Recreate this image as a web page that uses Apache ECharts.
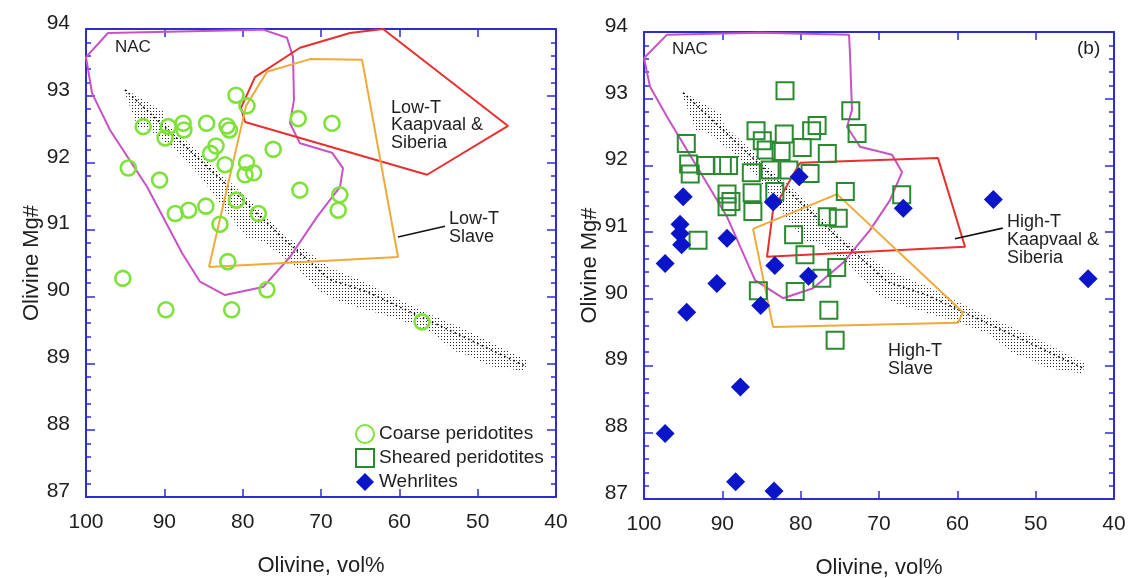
<!DOCTYPE html>
<html><head><meta charset="utf-8">
<script src="https://cdn.jsdelivr.net/npm/echarts@6/dist/echarts.min.js"></script>
<style>html,body{margin:0;padding:0;background:#fff}#c{width:1129px;height:578px}</style>
</head><body><div id="c"></div>
<script>
// ---------- data (x = Olivine vol%, y = Olivine Mg#) ----------
const xTickValues = [100, 90, 80, 70, 60, 50, 40];
const yTickValues = [87, 88, 89, 90, 91, 92, 93, 94];

const coarse = [[92.7,92.54],[89.9,92.37],[89.5,92.54],[87.6,92.59],[87.5,92.49],[84.6,92.59],[82.0,92.55],[81.7,92.49],[83.4,92.25],[84.1,92.14],[82.25,91.97],[79.5,92.0],[79.7,91.82],[78.6,91.85],[76.1,92.2],[72.9,92.66],[68.6,92.59],[94.6,91.92],[90.6,91.74],[88.6,91.24],[86.9,91.29],[84.7,91.35],[82.9,91.08],[80.8,91.44],[78.0,91.24],[72.7,91.59],[67.6,91.52],[67.8,91.29],[80.85,93.01],[79.45,92.85],[95.3,90.27],[89.8,89.8],[81.4,89.8],[81.9,90.52],[76.9,90.1],[57.1,89.62]];

const sheared = [[82.0,93.12],[73.6,92.82],[72.8,92.48],[85.7,92.52],[84.9,92.37],[82.1,92.47],[78.6,92.52],[77.9,92.6],[79.8,92.27],[82.5,92.21],[84.4,92.23],[76.6,92.18],[94.6,92.33],[94.3,92.02],[94.1,91.87],[92.1,92.0],[90.0,92.0],[89.2,92.0],[86.3,91.89],[83.9,91.93],[81.5,91.93],[78.8,91.88],[83.3,91.61],[89.4,91.57],[88.9,91.46],[89.4,91.38],[86.2,91.59],[86.1,91.31],[74.3,91.61],[76.6,91.23],[75.2,91.21],[93.1,90.88],[80.9,90.96],[79.45,90.66],[75.4,90.47],[77.3,90.31],[85.4,90.12],[80.7,90.11],[76.4,89.83],[75.6,89.38],[67.1,91.56]];

const wehrlites = [[95.0,91.53],[95.4,91.12],[95.4,90.98],[95.2,90.81],[89.4,90.91],[97.3,90.53],[90.7,90.23],[83.3,90.5],[79.0,90.34],[80.2,91.83],[83.5,91.45],[85.1,89.9],[94.55,89.8],[87.7,88.68],[97.3,87.98],[88.3,87.26],[83.4,87.12],[66.9,91.36],[55.4,91.49],[43.3,90.3]];

// field outlines
const nacLeft = [[100,93.58],[97.19,93.94],[77.40,93.99],[74.34,93.87],[73.57,93.58],[73.45,92.94],[73.96,92.59],[72.68,92.29],[68.59,92.15],[67.19,91.92],[67.57,91.64],[70.51,91.19],[73.96,90.59],[77.40,90.14],[82.25,90.02],[85.45,90.22],[87.74,90.65],[92.21,91.64],[96.94,92.49],[99.23,93.04]];
const lowTKaapvaal = [[79.70,92.61],[80.21,92.82],[78.43,93.28],[72.68,93.72],[66.30,93.94],[62.08,94.0],[46.12,92.55],[56.46,91.82]];
const lowTSlave = [[84.30,90.44],[79.57,92.85],[76.89,93.36],[71.40,93.55],[64.76,93.54],[60.17,90.59]];
const lowTSlaveLeader = [[60.17,90.89],[54.17,91.05]];

const nacRight = [[100,93.61],[97.06,93.96],[85.19,93.99],[73.83,93.96],[73.71,93.69],[73.45,92.83],[74.08,92.58],[72.42,92.28],[68.34,92.16],[67.06,91.90],[68.59,91.48],[71.15,91.03],[74.59,90.54],[78.42,90.16],[82.25,90.01],[85.83,90.28],[89.40,91.23],[93.23,91.98],[97.06,92.73],[99.23,93.18]];
const highTKaapvaal = [[80.08,92.04],[62.47,92.11],[59.02,90.78],[84.30,90.63],[83.53,91.33]];
const highTSlave = [[86.08,91.05],[75.36,91.57],[59.28,89.80],[59.91,89.64],[83.53,89.58]];
const highTKaapvaalLeader = [[60.3,90.90],[54.2,91.06]];

// stippled trend band: outline (upper edge, then lower edge back) and its dark centre line
const bandUpper = [[95.28,93.12],[90.17,92.77],[89.79,92.61],[85.45,92.13],[79.06,91.43],[74.85,90.93],[68.85,90.43],[64.13,90.20],[56.98,89.78],[50.98,89.47],[43.57,89.03]];
const bandLower = [[44.08,88.88],[48.42,88.96],[50.98,89.11],[52.89,89.18],[56.08,89.48],[59.91,89.65],[64.13,89.80],[67.57,89.92],[70.13,90.07],[73.32,90.46],[77.53,90.83],[79.45,90.87],[82.25,91.29],[85.45,91.80],[88.64,92.19],[91.83,92.49],[93.36,92.53],[94.64,92.91]];
const bandCentre = [[95.02,93.09],[85.45,92.04],[79.06,91.34],[74.85,90.87],[68.85,90.25],[64.13,90.07],[56.98,89.68],[50.98,89.35],[43.95,88.96]];

// ---------- styles ----------
const FF = "'Liberation Sans', Arial, Helvetica, sans-serif";
const AX = '#2d2dd2';
const TXT = '#1e1e1e';
const C_COARSE = '#7fe23a', C_SHEAR = '#2a8a30', C_WEHR = '#0a14c8';
const C_NAC = '#c852c4', C_RED = '#e6302e', C_ORANGE = '#efab3a';

const pat = document.createElement('canvas');
pat.width = 3; pat.height = 3;
(function(){ const g = pat.getContext('2d'); g.fillStyle = '#222'; g.fillRect(0,0,1,1); })();

function closeRing(a){ return a.concat([a[0]]); }

function xAx(grid, pos, main){
  return {type:'value', gridIndex:grid, position:pos, min:40, max:100, interval:10, inverse:true,
    axisLine:{show:true, onZero:false, lineStyle:{color:AX, width:2}},
    axisTick:{show:true, inside:true, length:8, lineStyle:{color:AX, width:1.5}},
    axisLabel:{show:main, margin:15, fontSize:21, color:TXT, fontFamily:FF},
    splitLine:{show:false},
    name: main ? 'Olivine, vol%' : '', nameLocation:'middle', nameGap:58,
    nameTextStyle:{fontSize:22, color:TXT, fontFamily:FF}};
}
function yAx(grid, pos, main){
  return {type:'value', gridIndex:grid, position:pos, min:87, max:94, interval:1,
    axisLine:{show:true, onZero:false, lineStyle:{color:AX, width:2}},
    axisTick:{show:true, inside:true, length:9, lineStyle:{color:AX, width:1.5}},
    minorTick:{show:true, splitNumber:5, length:5, lineStyle:{color:AX, width:1.5}},
    axisLabel:{show:main, margin:16, fontSize:21, color:TXT, fontFamily:FF,
      verticalAlign:'bottom', lineHeight:12},
    splitLine:{show:false}, minorSplitLine:{show:false},
    name: main ? 'Olivine Mg#' : '', nameLocation:'middle', nameGap:43,
    nameTextStyle:{fontSize:22, color:TXT, fontFamily:FF}};
}
function poly(name, pts, color, xi, yi){
  return {type:'line', name:name, data:closeRing(pts), xAxisIndex:xi, yAxisIndex:yi,
    symbol:'none', lineStyle:{color:color, width:2}, silent:true, z:3};
}
function leader(name, pts, xi, yi){
  return {type:'line', name:name, data:pts, xAxisIndex:xi, yAxisIndex:yi,
    symbol:'none', lineStyle:{color:'#111', width:1.6}, silent:true, z:3};
}
const bandOutline = bandUpper.concat(bandLower);
function band(xi, yi){
  return {type:'custom', name:'band'+xi, xAxisIndex:xi, yAxisIndex:yi, data:[[70,90]], silent:true, z:1,
    renderItem:function(params, api){
      return {type:'polygon', shape:{points: bandOutline.map(function(p){ return api.coord(p); })},
        style:{fill:{type:'pattern', image:pat, repeat:'repeat'}, stroke:null}};
    }};
}
function bandLine(xi, yi){
  return {type:'line', name:'bandc'+xi, data:bandCentre, xAxisIndex:xi, yAxisIndex:yi,
    symbol:'none', lineStyle:{color:'#000', width:1.6, type:[1.5,3.5]}, silent:true, z:2};
}

const chart = echarts.init(document.getElementById('c'), null, {renderer:'canvas'});
chart.setOption({
  animation:false,
  backgroundColor:'#ffffff',
  textStyle:{fontFamily:FF},
  grid:[
    {left:86, top:29, width:470, height:468, containLabel:false, outerBoundsMode:'none'},
    {left:644, top:32, width:470, height:467, containLabel:false, outerBoundsMode:'none'}
  ],
  xAxis:[xAx(0,'bottom',true), xAx(0,'top',false), xAx(1,'bottom',true), xAx(1,'top',false)],
  yAxis:[yAx(0,'left',true), yAx(0,'right',false), yAx(1,'left',true), yAx(1,'right',false)],
  legend:{
    data:['Coarse peridotites','Sheared peridotites','Wehrlites'],
    orient:'vertical', left:350, top:419, itemWidth:18, itemHeight:18, itemGap:4,
    textStyle:{fontSize:19, color:TXT, fontFamily:FF, lineHeight:20},
    selectedMode:false
  },
  series:[
    band(0,0), bandLine(0,0),
    poly('NAC', nacLeft, C_NAC, 0, 0),
    poly('Low-T Kaapvaal & Siberia', lowTKaapvaal, C_RED, 0, 0),
    poly('Low-T Slave', lowTSlave, C_ORANGE, 0, 0),
    leader('leader1', lowTSlaveLeader, 0, 0),
    {type:'scatter', name:'Coarse peridotites', data:coarse, xAxisIndex:0, yAxisIndex:0,
      symbol:'circle', symbolSize:15, z:5,
      itemStyle:{color:'rgba(255,255,255,0)', borderColor:C_COARSE, borderWidth:2.6, opacity:1}},
    band(2,2), bandLine(2,2),
    poly('NAC ', nacRight, C_NAC, 2, 2),
    poly('High-T Kaapvaal & Siberia', highTKaapvaal, C_RED, 2, 2),
    poly('High-T Slave', highTSlave, C_ORANGE, 2, 2),
    leader('leader2', highTKaapvaalLeader, 2, 2),
    {type:'scatter', name:'Sheared peridotites', data:sheared, xAxisIndex:2, yAxisIndex:2,
      symbol:'rect', symbolSize:17, z:5,
      itemStyle:{color:'rgba(255,255,255,0)', borderColor:C_SHEAR, borderWidth:2, opacity:1}},
    {type:'scatter', name:'Wehrlites', data:wehrlites, xAxisIndex:2, yAxisIndex:2,
      symbol:'diamond', symbolSize:19, z:6,
      itemStyle:{color:C_WEHR, opacity:1}}
  ],
  graphic:[
    {type:'text', x:115, y:47, style:{text:'NAC', fontSize:17, fontFamily:FF, fill:TXT, verticalAlign:'middle'}},
    {type:'text', x:391, y:99, style:{text:'Low-T\nKaapvaal &\nSiberia', fontSize:18, lineHeight:17.5, fontFamily:FF, fill:TXT, verticalAlign:'top'}},
    {type:'text', x:449, y:210, style:{text:'Low-T\nSlave', fontSize:18, lineHeight:18, fontFamily:FF, fill:TXT, verticalAlign:'top'}},
    {type:'text', x:672, y:49, style:{text:'NAC', fontSize:17, fontFamily:FF, fill:TXT, verticalAlign:'middle'}},
    {type:'text', x:1077, y:49, style:{text:'(b)', fontSize:19, fontFamily:FF, fill:TXT, verticalAlign:'middle'}},
    {type:'text', x:1007, y:213, style:{text:'High-T\nKaapvaal &\nSiberia', fontSize:18, lineHeight:18, fontFamily:FF, fill:TXT, verticalAlign:'top'}},
    {type:'text', x:888, y:342, style:{text:'High-T\nSlave', fontSize:18, lineHeight:18, fontFamily:FF, fill:TXT, verticalAlign:'top'}}
  ]
});
</script>
</body></html>
